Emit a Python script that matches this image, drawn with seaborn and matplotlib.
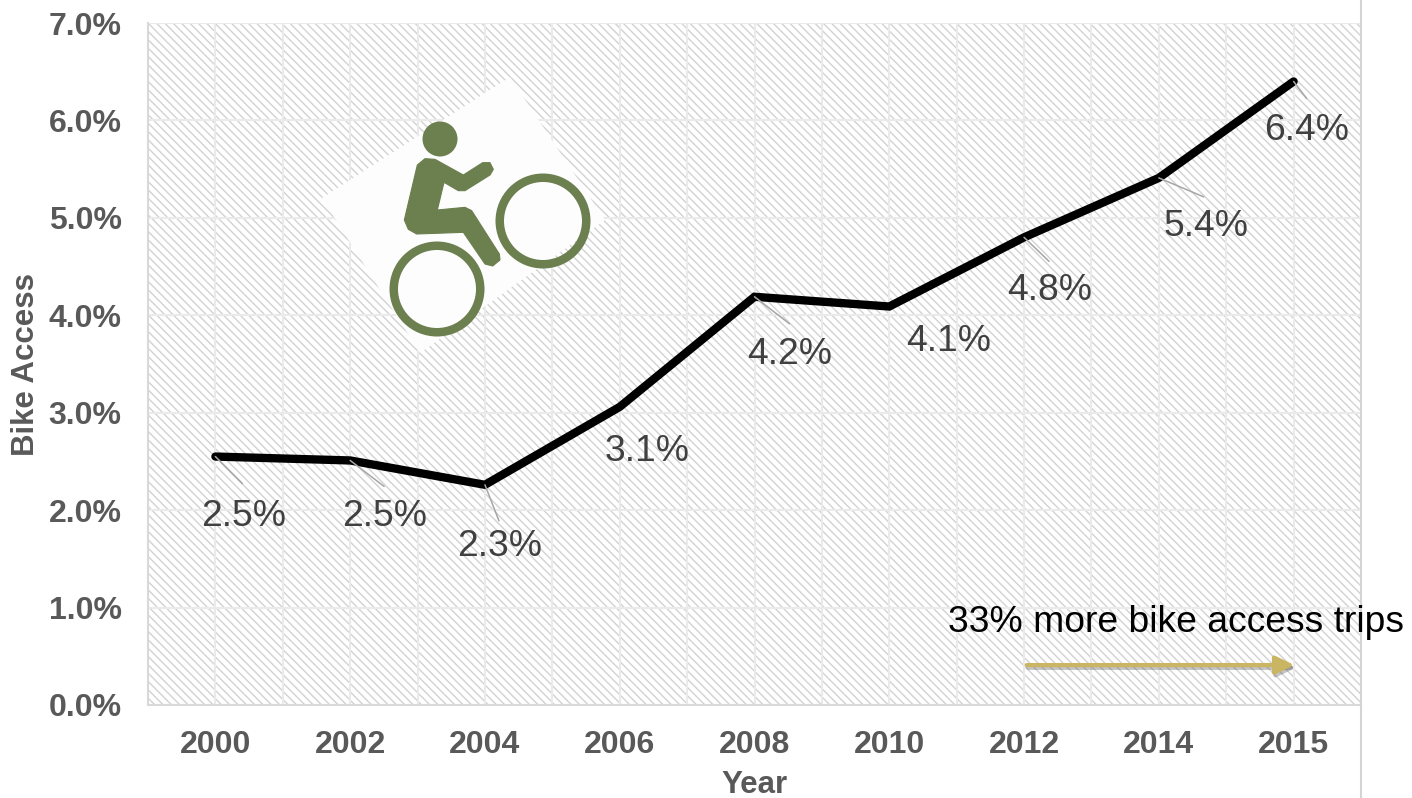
import matplotlib
matplotlib.use("Agg")
import matplotlib.pyplot as plt
import matplotlib.patheffects as pe
from matplotlib.patches import Polygon, Circle, Wedge
from matplotlib.lines import Line2D
from matplotlib.ticker import MultipleLocator, FixedLocator, PercentFormatter
from matplotlib.transforms import Affine2D
import pandas as pd
import seaborn as sns

years = ["2000", "2002", "2004", "2006", "2008", "2010", "2012", "2014", "2015"]
bike_access = [2.55, 2.51, 2.26, 3.06, 4.19, 4.09, 4.80, 5.41, 6.40]
point_labels = ["2.5%", "2.5%", "2.3%", "3.1%", "4.2%", "4.1%", "4.8%", "5.4%", "6.4%"]
note_text = "33% more bike access trips"

W, H = 1412, 798
sns.set_theme(style="white")
plt.rcParams["font.family"] = ["Liberation Sans", "DejaVu Sans"]
plt.rcParams["hatch.linewidth"] = 1.0

fig = plt.figure(figsize=(W / 100, H / 100), dpi=100, facecolor="white")
ax = fig.add_axes([148 / W, 1 - 705 / H, (1361 - 148) / W, (705 - 23) / H])
ax.patch.set_facecolor("white")
ax.patch.set_edgecolor("#d2d2d2")
ax.patch.set_hatch("\\\\\\\\")
ax.patch.set_linewidth(0)

df = pd.DataFrame({"pos": range(len(years)), "value": bike_access})
sns.lineplot(data=df, x="pos", y="value", ax=ax, color="black", linewidth=6,
             solid_capstyle="round", solid_joinstyle="miter", zorder=4, errorbar=None)

ax.set_xlim(-0.5, len(years) - 0.5)
ax.set_ylim(0, 7)
ax.xaxis.set_major_locator(FixedLocator(range(len(years))))
ax.set_xticklabels(years)
ax.xaxis.set_minor_locator(MultipleLocator(0.5))
ax.yaxis.set_major_locator(MultipleLocator(1))
ax.yaxis.set_major_formatter(PercentFormatter(decimals=1))
ax.set_axisbelow(True)
ax.grid(True, axis="y", which="major", color="#eaeaea", linewidth=1.5)
ax.grid(True, axis="x", which="both", color="#eaeaea", linewidth=1.5)
ax.tick_params(axis="both", which="both", length=0)
ax.tick_params(axis="x", pad=18, labelsize=23, labelcolor="#595959")
ax.tick_params(axis="y", pad=19, labelsize=23, labelcolor="#595959")
for lab in ax.get_xticklabels() + ax.get_yticklabels():
    lab.set_fontweight("bold")
for name, sp in ax.spines.items():
    sp.set_color("#d9d9d9")
    sp.set_linewidth(1.5)
    sp.set_visible(name in ("bottom", "left"))

ax.set_xlabel("Year", fontsize=22.5, fontweight="bold", color="#595959", labelpad=7.5)
ax.set_ylabel("Bike Access", fontsize=22.5, fontweight="bold", color="#595959", va="center")
ax.yaxis.set_label_coords((26 - 148) / (1361 - 148), (705 - 365) / 682)

# data labels and leader lines (offsets in screen pixels from each point)
label_off = [(28, 60), (34, 56), (15, 62), (27, 45), (35, 58), (59, 35), (26, 53), (47, 49), (13, 49)]
leader_off = [(27, 27), (34, 26), (14, 36), None, (35, 27), None, (25, 24), (45, 19), (13, 17)]
for i, val in enumerate(bike_access):
    if leader_off[i] is not None:
        dx, dy = leader_off[i]
        ax.annotate("", xy=(i, val), xytext=(dx * 0.72, -dy * 0.72), textcoords="offset points",
                    arrowprops=dict(arrowstyle="-", color="#a6a6a6", lw=1.1, shrinkA=0, shrinkB=0),
                    zorder=5)
    dx, dy = label_off[i]
    ax.annotate(point_labels[i], xy=(i, val), xytext=(dx * 0.72, -dy * 0.72),
                textcoords="offset points", ha="center", va="center",
                fontsize=26.8, color="#404040", zorder=6)

# annotation and arrow
fig.text(1176.5 / W, 1 - 623 / H, note_text, ha="center", va="center", fontsize=26.8, color="black")
ax.annotate("", xy=(8.005, 0.41), xytext=(6.02, 0.41),
            arrowprops=dict(arrowstyle="-|>,head_length=0.7,head_width=0.34", color="#c9b562", lw=3,
                            shrinkA=0, shrinkB=0, mutation_scale=16,
                            path_effects=[pe.SimpleLineShadow(offset=(1, -2), shadow_color="#555555", alpha=0.35),
                                          pe.Normal()]),
            zorder=5)

# right rule running the full figure height
fig.add_artist(Line2D([1361 / W, 1361 / W], [0, 1], transform=fig.transFigure, color="#d4d4d4", lw=1.5))

# bicycle icon, drawn in reference-pixel space
px = Affine2D().scale(1, -1).translate(0, H) + fig.dpi_scale_trans.inverted() + fig.dpi_scale_trans
green = "#6b7f4f"
def z(points):
    return [(300 + x / 3, 60 + y / 3) for x, y in points]
card = [(510, 77), (605, 220), (420, 353), (322, 198)]
fig.add_artist(Polygon(card, closed=True, transform=px, facecolor="#fdfdfd", edgecolor="none", zorder=7))
fig.add_artist(Circle((440, 139), 17.5, transform=px, facecolor=green, edgecolor="none", zorder=8))
for c, r in (((543, 221), 47.5), ((437, 289), 47.5)):
    fig.add_artist(Wedge(c, r, 0, 360, width=8.5, transform=px, facecolor=green, edgecolor="none", zorder=8))
body = z([(352, 315), (375, 296), (405, 298), (490, 345), (548, 308), (570, 308), (580, 328), (570, 345),
          (495, 392), (475, 392), (432, 367), (412, 450), (495, 442), (515, 452), (598, 582), (600, 600),
          (578, 618), (555, 612), (490, 517), (350, 522), (325, 508), (313, 480)])
fig.add_artist(Polygon(body, closed=True, transform=px, facecolor=green, edgecolor=green, lw=0.8,
                       joinstyle="round", zorder=8))

fig.savefig("out.png", dpi=100, facecolor="white")
